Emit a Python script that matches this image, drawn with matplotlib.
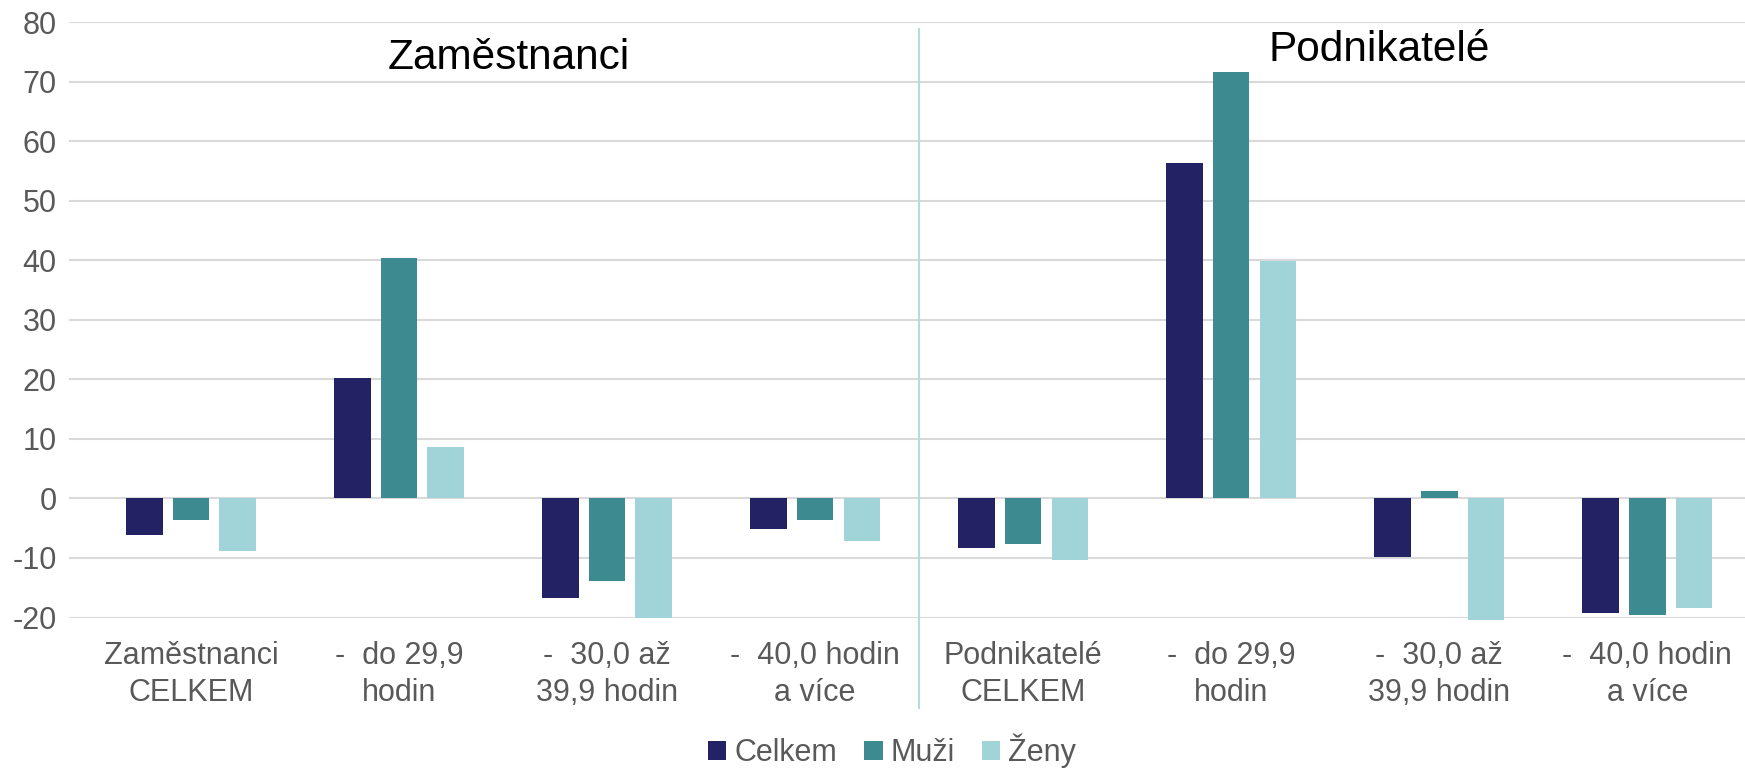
import numpy as np
import matplotlib.pyplot as plt

plt.rcParams['font.family'] = ['Liberation Sans', 'DejaVu Sans']
plt.rcParams['axes.unicode_minus'] = False

# Data
categories = ['Zaměstnanci\nCELKEM', '-  do 29,9\nhodin', '-  30,0 až\n39,9 hodin', '-  40,0 hodin\na více',
              'Podnikatelé\nCELKEM', '-  do 29,9\nhodin', '-  30,0 až\n39,9 hodin', '-  40,0 hodin\na více']
celkem = [-6.1, 20.3, -16.8, -5.1, -8.4, 56.4, -9.9, -19.2]
muzi = [-3.6, 40.4, -13.9, -3.6, -7.6, 71.6, 1.3, -19.5]
zeny = [-8.9, 8.7, -20.0, -7.1, -10.3, 39.9, -20.4, -18.4]
series = ['Celkem', 'Muži', 'Ženy']
colors = ['#232264', '#3d8b91', '#a1d4d8']

fig = plt.figure(figsize=(17.45, 7.68), dpi=100)
ax = fig.add_axes([69/1745, 150.5/768, 1676/1745, 595.2/768])

x = np.arange(len(categories))
w = 0.176
step = 0.2245
for i, (vals, name, c) in enumerate(zip([celkem, muzi, zeny], series, colors)):
    ax.bar(x + (i - 1) * step, vals, width=w, color=c, label=name, clip_on=False, zorder=3)

ax.set_xlim(-0.5 - 18/208, 7.47)
ax.set_ylim(-20, 80)
ax.set_yticks(range(-20, 81, 10))
ax.yaxis.grid(True, color='#d9d9d9', linewidth=1.5, zorder=0)
ax.set_axisbelow(True)
for s in ax.spines.values():
    s.set_visible(False)
ax.tick_params(length=0, labelsize=22, colors='#595959')
ax.tick_params(axis='y', pad=9)
ax.tick_params(axis='x', pad=17)
ax.set_xticks(x)
ax.set_xticklabels(categories, linespacing=1.3)

# divider between the two groups
ax.plot([3.5, 3.5], [-0.152, 0.989], color='#b5dde0', linewidth=1.5,
        transform=ax.get_xaxis_transform(), clip_on=False)

ax.text(509/1745, 1 - 58/768, 'Zaměstnanci', transform=fig.transFigure,
        ha='center', va='center', fontsize=30.5, color='black')
ax.text(1379/1745, 1 - 50/768, 'Podnikatelé', transform=fig.transFigure,
        ha='center', va='center', fontsize=30.5, color='black')

fig.legend(loc='center', bbox_to_anchor=(892/1745, 1 - 751/768), ncol=3, frameon=False,
           fontsize=22, handlelength=0.6, handleheight=0.6, handletextpad=0.25,
           columnspacing=0.9, labelcolor='#595959')

fig.savefig('out.png', dpi=100)
